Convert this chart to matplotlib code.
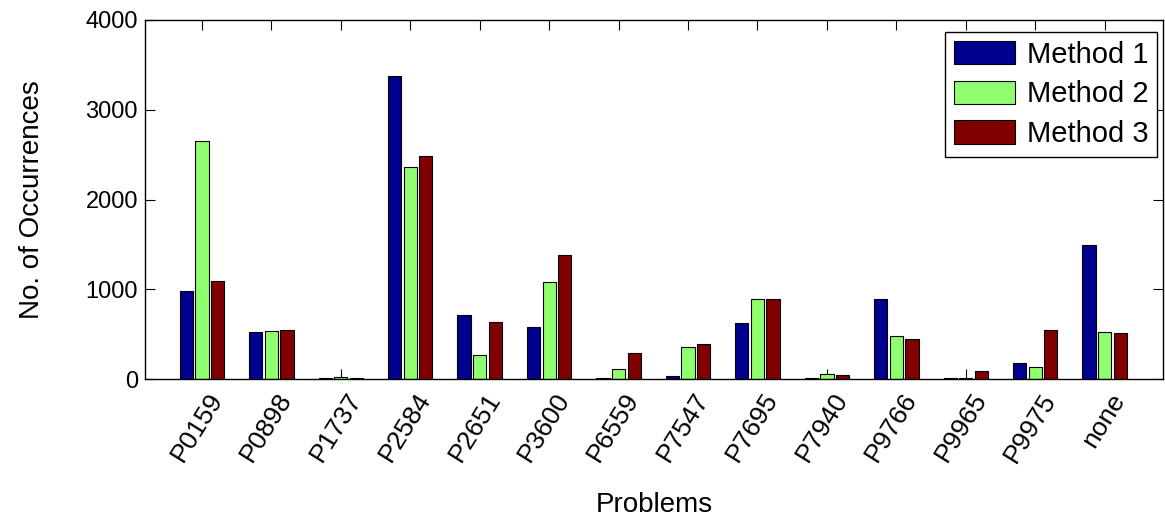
import numpy as np
import matplotlib.pyplot as plt
import matplotlib.transforms as mtransforms

plt.rcParams['font.family'] = ['Liberation Sans', 'DejaVu Sans']

# Дані
problems = ['P0159', 'P0898', 'P1737', 'P2584', 'P2651', 'P3600', 'P6559',
            'P7547', 'P7695', 'P7940', 'P9766', 'P9965', 'P9975', 'none']
method1 = [985, 520, 15, 3380, 710, 575, 15, 35, 625, 15, 890, 15, 180, 1495]
method2 = [2650, 535, 20, 2365, 270, 1080, 110, 360, 890, 55, 480, 15, 130, 520]
method3 = [1095, 550, 15, 2485, 640, 1380, 285, 395, 890, 50, 445, 90, 550, 515]

series = [method1, method2, method3]
names = ['Method 1', 'Method 2', 'Method 3']
colors = ['#00008F', '#8FFF70', '#800000']

fig = plt.figure(figsize=(11.65, 5.2), dpi=100)
ax = fig.add_axes([145 / 1165, 1 - 379 / 520, (1163 - 145) / 1165, (379 - 20) / 520])

x = np.arange(1, len(problems) + 1)
offsets = [-0.225, 0, 0.225]
for vals, name, col, off in zip(series, names, colors, offsets):
    ax.bar(x + off, vals, width=0.19, color=col, edgecolor='black',
           linewidth=0.8, label=name, zorder=2)

ax.set_xlim(0.18, 14.84)
ax.set_ylim(0, 4000)
ax.set_yticks([0, 1000, 2000, 3000, 4000])
ax.set_xticks(x)
ax.set_xticklabels(problems, rotation=58, ha='right', rotation_mode='anchor')
ax.tick_params(direction='in', length=7, width=0.8, top=True, right=True,
               labelsize=17, pad=5)
ax.tick_params(axis='x', labelsize=19, pad=7)
# сдвиг подписей немного вправо
shift = mtransforms.ScaledTranslation(5 / 100, 0, fig.dpi_scale_trans)
for lab in ax.get_xticklabels():
    lab.set_transform(lab.get_transform() + shift)
for s in ax.spines.values():
    s.set_linewidth(1.0)
    s.set_zorder(3)

ax.set_xlabel('Problems', fontsize=20)
ax.set_ylabel('No. of Occurrences', fontsize=20)
ax.xaxis.set_label_coords(0.5, -0.315)
ax.yaxis.set_label_coords(-0.098, 0.5)

leg = ax.legend(loc='upper left', bbox_to_anchor=(945 / 1165, 1 - 32 / 520),
                bbox_transform=fig.transFigure, fontsize=21, frameon=True,
                fancybox=False, framealpha=1, edgecolor='black',
                handlelength=2.1, handleheight=0.85, handletextpad=0.4,
                borderpad=0.3, labelspacing=0.4, borderaxespad=0)
leg.get_frame().set_linewidth(1.0)

fig.savefig('out.png', dpi=100)
